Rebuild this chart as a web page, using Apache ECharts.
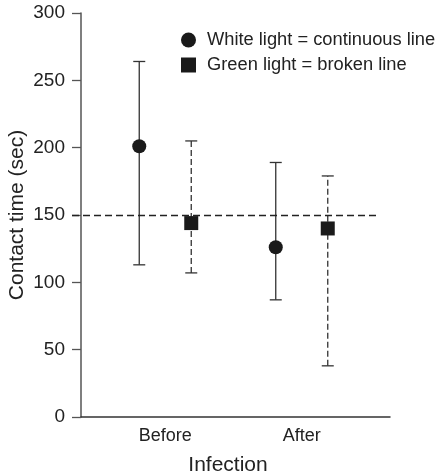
<!DOCTYPE html>
<html>
<head>
<meta charset="utf-8">
<script src="https://cdn.jsdelivr.net/npm/echarts@6/dist/echarts.min.js"></script>
<style>
  html, body { margin: 0; padding: 0; background: #fff; }
  #main { width: 442px; height: 475px; }
</style>
</head>
<body>
<div id="main"></div>
<script>
var categories = ['Before', 'After'];
var whiteMean = [201, 126];
var whiteLow = [113, 87];
var whiteHigh = [264, 189];
var greenMean = [144, 140];
var greenLow = [107, 38];
var greenHigh = [205, 179];
var refValue = 150;
var yMin = 0, yMax = 300, yStep = 50;

var font = "'Liberation Sans', Arial, Helvetica, sans-serif";
var inkColor = '#1a1a1a';
var lineColor = '#333';

// error bar drawn through the category / value axes, shifted sideways by offset px
function errBar(offset, dash) {
    return function (params, api) {
        var i = api.value(0);
        var x = api.coord([i, 0])[0] + offset;
        var lo = api.coord([i, api.value(1)])[1];
        var hi = api.coord([i, api.value(2)])[1];
        var w = 6;
        var solid = {stroke: lineColor, lineWidth: 1.3};
        return {
            type: 'group',
            children: [
                {type: 'line', shape: {x1: x, y1: lo, x2: x, y2: hi},
                    style: {stroke: lineColor, lineWidth: 1.3, lineDash: dash}},
                {type: 'line', shape: {x1: x - w, y1: hi, x2: x + w, y2: hi}, style: solid},
                {type: 'line', shape: {x1: x - w, y1: lo, x2: x + w, y2: lo}, style: solid}
            ]
        };
    };
}

var chart = echarts.init(document.getElementById('main'));
var option = {
    animation: false,
    backgroundColor: '#fff',
    textStyle: {fontFamily: font},
    legend: {
        orient: 'vertical',
        left: 176,
        top: 26,
        itemWidth: 15,
        itemHeight: 15,
        itemGap: 7,
        data: [
            {name: 'White light = continuous line', icon: 'circle'},
            {name: 'Green light = broken line', icon: 'rect'}
        ],
        textStyle: {fontSize: 18.3, color: '#222', fontFamily: font, padding: [0, 0, 0, 6]}
    },
    grid: [
        // frame with the axes
        {left: 81, top: 13, width: 309, height: 404, containLabel: false, outerBoundsMode: 'none'},
        // data area
        {left: 97, top: 13, width: 273, height: 404, containLabel: false, outerBoundsMode: 'none'},
        // reference line area
        {left: 72, top: 13, width: 307, height: 404, containLabel: false, outerBoundsMode: 'none'}
    ],
    xAxis: [
        {
            type: 'value', gridIndex: 0, min: 0, max: 1,
            axisLine: {show: true, lineStyle: {color: lineColor, width: 1.5}},
            axisTick: {show: false}, axisLabel: {show: false}, splitLine: {show: false}
        },
        {
            type: 'category', gridIndex: 1, data: categories,
            axisLine: {show: false}, axisTick: {show: false}, splitLine: {show: false},
            axisLabel: {fontSize: 18, color: '#222', margin: 10, fontFamily: font},
            name: 'Infection', nameLocation: 'middle', nameGap: 38, nameMoveOverlap: false,
            nameTextStyle: {fontSize: 21, color: '#222', fontFamily: font, padding: [0, 11, 0, 0]}
        },
        {
            type: 'value', gridIndex: 2, min: 0, max: 1, show: false
        }
    ],
    yAxis: [
        {
            type: 'value', gridIndex: 0, min: yMin, max: yMax, interval: yStep,
            axisLine: {show: true, lineStyle: {color: '#555', width: 1.5}},
            axisTick: {show: true, length: 9, lineStyle: {color: '#555', width: 1.3}},
            axisLabel: {fontSize: 19, color: '#222', margin: 16, fontFamily: font},
            splitLine: {show: false},
            name: 'Contact time (sec)', nameLocation: 'middle', nameGap: 53, nameMoveOverlap: false,
            nameTextStyle: {fontSize: 21, color: '#222', fontFamily: font}
        },
        {type: 'value', gridIndex: 1, min: yMin, max: yMax, show: false},
        {type: 'value', gridIndex: 2, min: yMin, max: yMax, show: false}
    ],
    series: [
        {
            name: 'ref', type: 'line', xAxisIndex: 2, yAxisIndex: 2, data: [],
            markLine: {
                silent: true, symbol: 'none', label: {show: false},
                lineStyle: {color: '#222', width: 1.3, type: [7, 4]},
                data: [{yAxis: refValue}]
            }
        },
        {
            name: 'whiteErr', type: 'custom', xAxisIndex: 1, yAxisIndex: 1,
            renderItem: errBar(-26, null),
            encode: {x: 0, y: [1, 2]},
            data: categories.map(function (c, i) { return [i, whiteLow[i], whiteHigh[i]]; }),
            z: 3
        },
        {
            name: 'greenErr', type: 'custom', xAxisIndex: 1, yAxisIndex: 1,
            renderItem: errBar(26, [6, 3]),
            encode: {x: 0, y: [1, 2]},
            data: categories.map(function (c, i) { return [i, greenLow[i], greenHigh[i]]; }),
            z: 3
        },
        {
            name: 'White light = continuous line', type: 'scatter',
            xAxisIndex: 1, yAxisIndex: 1,
            symbol: 'circle', symbolSize: 14, symbolOffset: [-26, 0],
            itemStyle: {color: inkColor, opacity: 1},
            data: whiteMean, z: 5
        },
        {
            name: 'Green light = broken line', type: 'scatter',
            xAxisIndex: 1, yAxisIndex: 1,
            symbol: 'rect', symbolSize: 14, symbolOffset: [26, 0],
            itemStyle: {color: inkColor, opacity: 1},
            data: greenMean, z: 5
        }
    ]
};
chart.setOption(option);
</script>
</body>
</html>
